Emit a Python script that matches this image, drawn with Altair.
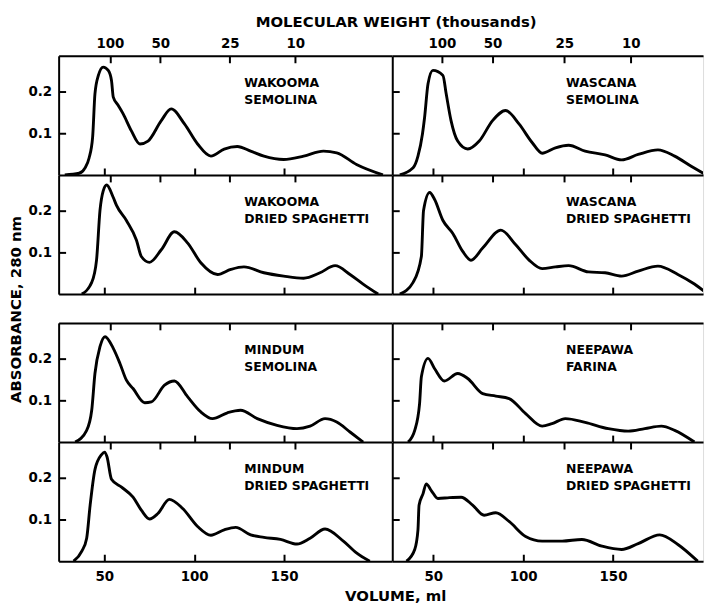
import altair as alt
import pandas as pd

FONT = "DejaVu Sans"

# ---------------- data ----------------
panel_labels = [
    "WAKOOMA\nSEMOLINA", "WASCANA\nSEMOLINA",
    "WAKOOMA\nDRIED SPAGHETTI", "WASCANA\nDRIED SPAGHETTI",
    "MINDUM\nSEMOLINA", "NEEPAWA\nFARINA",
    "MINDUM\nDRIED SPAGHETTI", "NEEPAWA\nDRIED SPAGHETTI",
]

wak_sem_ml = [28, 36, 39.3, 41.5, 43.5, 44.8, 46.7, 49.4, 52.2, 54, 55, 57.5, 60.5, 65, 69.8, 74.3,
              81.7, 87.2, 94.6, 101.9, 109.3, 116.7, 124, 131.4, 138.8, 149.8, 160.9, 171.9, 179.3,
              190.3, 205]
wak_sem_abs = [0, 0.004, 0.017, 0.04, 0.09, 0.194, 0.238, 0.258, 0.25, 0.226, 0.186, 0.168, 0.146,
               0.106, 0.074, 0.081, 0.13, 0.158, 0.122, 0.074, 0.045, 0.062, 0.068, 0.057, 0.045,
               0.037, 0.045, 0.057, 0.053, 0.025, 0]

was_sem_ml = [31.4, 38.8, 41.5, 44, 45.2, 47.1, 49.8, 55.4, 57.2, 59.9, 63.6, 69.2, 75.6, 83, 90.3,
              97.7, 105.1, 110.6, 118, 125.3, 134.5, 145.6, 154.8, 164, 175, 184.3, 193.5, 201.8]
was_sem_abs = [0, 0.017, 0.045, 0.098, 0.138, 0.218, 0.25, 0.238, 0.194, 0.13, 0.081, 0.062, 0.081,
               0.13, 0.154, 0.122, 0.077, 0.052, 0.065, 0.071, 0.057, 0.048, 0.036, 0.049, 0.06,
               0.045, 0.021, 0]

wak_ds_ml = [37.5, 43, 45.7, 47.6, 49.4, 51.3, 55, 56.8, 62.3, 67.9, 70.6, 75.2, 81.7, 89, 96.4,
             103.7, 113, 120.4, 127.7, 138.8, 149.8, 160.9, 170, 178.4, 186.7, 194, 202.3]
wak_ds_abs = [0, 0.028, 0.082, 0.2, 0.247, 0.261, 0.231, 0.212, 0.176, 0.129, 0.09, 0.076, 0.106,
              0.149, 0.122, 0.075, 0.047, 0.059, 0.065, 0.051, 0.043, 0.038, 0.051, 0.068, 0.047,
              0.024, 0]

was_ds_ml = [31.4, 38.8, 43.4, 44.6, 48, 50.7, 55.4, 60.9, 66.4, 71, 77.5, 87.6, 95.9, 103.2, 110.6,
             118, 125.3, 136.4, 145.6, 154.8, 164, 175, 186.1, 195.3, 202.7]
was_ds_abs = [0, 0.028, 0.09, 0.2, 0.243, 0.227, 0.176, 0.145, 0.102, 0.081, 0.11, 0.153, 0.118,
              0.082, 0.061, 0.065, 0.068, 0.053, 0.051, 0.043, 0.055, 0.067, 0.047, 0.024, 0]

min_sem_ml = [33.8, 40.2, 43, 44.8, 47.6, 50.4, 55, 58.7, 62.3, 66, 72.5, 76.2, 83.5, 89, 96.4, 103.7,
              110.2, 118.5, 125.8, 135.1, 146.1, 157.2, 164.5, 172.8, 179.3, 186.7, 194]
min_sem_abs = [0, 0.028, 0.076, 0.164, 0.228, 0.252, 0.224, 0.188, 0.148, 0.128, 0.094, 0.096, 0.136,
               0.146, 0.108, 0.072, 0.056, 0.07, 0.076, 0.056, 0.04, 0.032, 0.038, 0.056, 0.048,
               0.024, 0]

nee_far_ml = [36, 39.7, 42.4, 43.4, 47.1, 50.7, 56.2, 63.6, 69.2, 77.5, 84.8, 92.2, 101.4, 110.6, 116.1,
              123.5, 134.5, 147.4, 158.5, 167.7, 176.9, 184.3, 195.3]
nee_far_abs = [0, 0.028, 0.092, 0.156, 0.2, 0.176, 0.146, 0.164, 0.152, 0.116, 0.11, 0.104, 0.068,
               0.038, 0.044, 0.056, 0.047, 0.032, 0.026, 0.032, 0.038, 0.028, 0]

min_ds_ml = [32.9, 37.5, 40.2, 42.1, 44.8, 48.5, 50.2, 51.5, 54, 59.6, 66, 70.6, 75.2, 79.8, 86.2, 93.6,
             101.9, 109.3, 116.7, 123.1, 131.4, 138.8, 148, 157.2, 164.5, 172.8, 183, 190.3, 197.7]
min_ds_abs = [0, 0.024, 0.055, 0.133, 0.219, 0.255, 0.261, 0.25, 0.196, 0.177, 0.153, 0.122, 0.101,
              0.114, 0.148, 0.126, 0.083, 0.062, 0.075, 0.081, 0.063, 0.057, 0.052, 0.041, 0.055,
              0.077, 0.048, 0.02, 0]

nee_ds_ml = [35.1, 39.7, 41.5, 42.1, 44.3, 46.1, 48.9, 52.6, 59, 65.5, 71.9, 78.3, 84.8, 92.2, 101.4,
             110.6, 121.7, 132.7, 143.8, 154.8, 164, 176, 186.1, 197.1]
nee_ds_abs = [0, 0.028, 0.075, 0.134, 0.161, 0.185, 0.169, 0.15, 0.152, 0.153, 0.134, 0.11, 0.116,
              0.095, 0.059, 0.048, 0.048, 0.052, 0.036, 0.028, 0.042, 0.063, 0.04, 0]

curves = [
    (wak_sem_ml, wak_sem_abs), (was_sem_ml, was_sem_abs),
    (wak_ds_ml, wak_ds_abs), (was_ds_ml, was_ds_abs),
    (min_sem_ml, min_sem_abs), (nee_far_ml, nee_far_abs),
    (min_ds_ml, min_ds_abs), (nee_ds_ml, nee_ds_abs),
]

volume_ticks = [50, 100, 150]
absorbance_ticks = [0.1, 0.2]
mw_labels = ["100", "50", "25", "10"]
mw_volume_left = [53.1, 81.1, 119.8, 156.2]
mw_volume_right = [54.8, 83.0, 122.9, 159.9]
x_domain_left = [24.6, 210.2]
x_domain_right = [27.2, 200.1]
y_domain = [0, 0.285]

# ---------------- style ----------------
W_LEFT, W_RIGHT, H, GAP = 336, 313, 120, 29
TICK = 7
common_axis = dict(
    grid=False, tickColor="black", tickWidth=2, domainColor="black",
    domainWidth=2, labelColor="black", labelFont=FONT, labelFontSize=13.5,
    labelFontWeight="bold", titleFont=FONT, titleFontSize=15, titleFontWeight="bold",
    titleColor="black",
)


def panel(idx):
    row, col = divmod(idx, 2)
    ml, ab = curves[idx]
    df = pd.DataFrame({"ml": ml, "abs": ab})
    dom = x_domain_left if col == 0 else x_domain_right
    mw_pos = mw_volume_left if col == 0 else mw_volume_right
    w = W_LEFT if col == 0 else W_RIGHT
    xs = alt.Scale(domain=dom, nice=False, zero=False)
    ys = alt.Scale(domain=y_domain, nice=False, zero=False)

    # figure-wide axis titles carried by single panels
    y_title = dict(title=None)
    if idx == 2:
        y_title = dict(title="ABSORBANCE, 280 nm", titleX=-50, titleY=135, titleAngle=270,
                       titleAlign="center", titleBaseline="middle")
    x_title = dict(title=None)
    if idx == 6:
        x_title = dict(title="VOLUME, ml", titleX=339, titleY=42, titleAlign="center",
                       titleBaseline="middle")

    line = alt.Chart(df).mark_line(
        color="black", strokeWidth=2.9, clip=True, interpolate="monotone"
    ).encode(
        x=alt.X("ml:Q", scale=xs, axis=alt.Axis(
            orient="bottom", values=volume_ticks, offset=-TICK, tickSize=TICK,
            domain=False, labels=(row == 3), labelPadding=8, **x_title, **common_axis)),
        y=alt.Y("abs:Q", scale=ys, axis=alt.Axis(
            orient="left", values=absorbance_ticks, format=".1f", offset=-TICK,
            tickSize=TICK, domain=False, labels=(col == 0), labelPadding=7,
            **y_title, **common_axis)),
    )

    mw_df = pd.DataFrame({"mw": mw_pos})
    expr = "[" + ",".join("'%s'" % s for s in mw_labels) + "][indexof([" + \
        ",".join(str(v) for v in mw_pos) + "], datum.value)]"
    top = alt.Chart(mw_df).mark_rule(strokeOpacity=0).encode(
        x=alt.X("mw:Q", scale=xs, axis=alt.Axis(
            orient="top", values=mw_pos, labelExpr=expr, offset=-TICK, tickSize=TICK,
            domain=False, labels=(row == 0), labelPadding=5, title=None, **common_axis)),
    )

    frame_a = alt.Chart(df).mark_line(strokeOpacity=0).encode(
        x=alt.X("ml:Q", scale=xs, axis=alt.Axis(
            orient="top", domain=True, ticks=False, labels=False, title=None, **common_axis)),
        y=alt.Y("abs:Q", scale=ys, axis=alt.Axis(
            orient="left", domain=True, ticks=False, labels=False, title=None, **common_axis)),
    )
    layers = [line, top, frame_a]
    if row in (1, 3):
        frame_b = alt.Chart(df).mark_line(strokeOpacity=0).encode(
            x=alt.X("ml:Q", scale=xs, axis=alt.Axis(
                orient="bottom", domain=True, ticks=False, labels=False, title=None,
                **common_axis)),
            y=alt.Y("abs:Q", scale=ys, axis=None),
        )
        layers.append(frame_b)

    txt = alt.Chart(pd.DataFrame({"t": [panel_labels[idx]]})).mark_text(
        lineBreak="\n", align="left", baseline="middle", font=FONT, fontWeight="bold",
        fontSize=12.5, lineHeight=17.5, color="black",
    ).encode(text="t:N", x=alt.value(187 if col == 0 else 175), y=alt.value(27))
    layers.append(txt)

    return alt.layer(*layers).resolve_axis(x="independent", y="independent").properties(
        width=w, height=H)


def spacer(w):
    return alt.Chart(pd.DataFrame({"s": [0]})).mark_point(opacity=0).properties(
        width=w, height=GAP)


cells = [panel(0), panel(1), panel(2), panel(3), spacer(W_LEFT), spacer(W_RIGHT),
         panel(4), panel(5), panel(6), panel(7)]

chart = alt.concat(*cells, columns=2, spacing=0, bounds="flush").properties(
    title=alt.TitleParams("MOLECULAR WEIGHT (thousands)", orient="top", anchor="middle",
                          offset=6, dx=38, font=FONT, fontSize=15, fontWeight="bold",
                          color="black"),
    padding={"left": 0, "top": 5, "right": 0, "bottom": 0},
).configure_view(stroke=None).configure(background="white")

chart.save("out.html", embed_options={"renderer": "svg", "actions": False})
